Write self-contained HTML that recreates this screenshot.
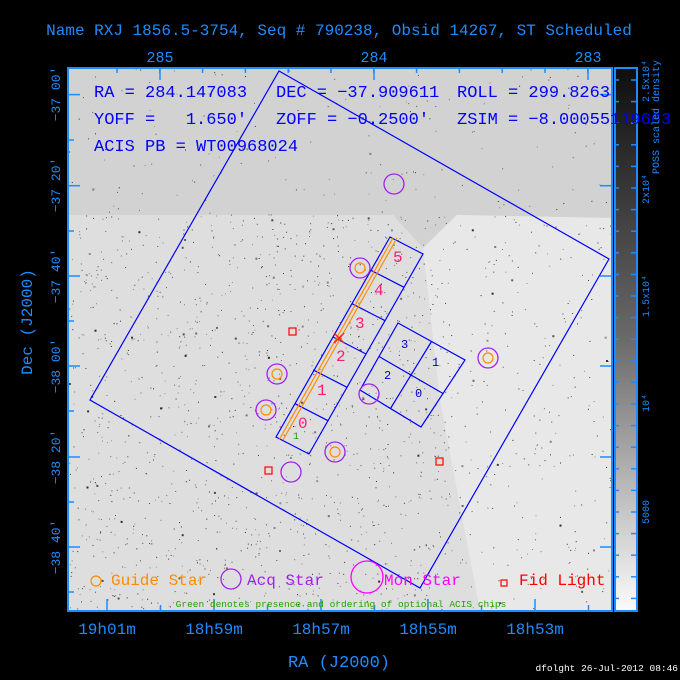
<!DOCTYPE html>
<html><head><meta charset="utf-8"><style>
html,body{margin:0;padding:0;background:#000;}
svg{display:block}
text{font-family:"Liberation Mono",monospace;}
</style></head><body>
<svg id="s" width="680" height="680" viewBox="0 0 680 680" xmlns="http://www.w3.org/2000/svg">
<rect width="680" height="680" fill="#000"/>
<defs>
<linearGradient id="cb" x1="0" y1="0" x2="0" y2="1">
<stop offset="0" stop-color="#0e0e0e"/><stop offset="0.5" stop-color="#6a6a6a"/><stop offset="1" stop-color="#fbfbfb"/>
</linearGradient>
<clipPath id="pc"><rect x="68" y="68" width="544" height="543"/></clipPath>
</defs>
<g clip-path="url(#pc)">
<rect x="68" y="68" width="544" height="543" fill="#d2d2d2"/>
<polygon points="68,215 393,215 423,248 457,215 612,218 612,611 68,611" fill="#dedede"/>
<polygon points="423,248 457,215 612,218 612,611 480,611 440,400" fill="#e8e8e8"/>
<g id="dots"></g>
</g>
<rect x="68" y="68" width="544" height="543" fill="none" stroke="#1e8cff" stroke-width="2"/>
<g id="ticks" stroke="#1e8cff" stroke-width="1.5"></g>
<rect x="615" y="68" width="22" height="543" fill="url(#cb)" stroke="#1e8cff" stroke-width="2"/>
<g id="cticks" stroke="#1e8cff" stroke-width="1.5"></g>
<polygon points="279,71 609,259 420,588 90,400" fill="none" stroke="#0000ff" stroke-width="1.2"/>
<g id="acis" fill="none" stroke="#0000ff" stroke-width="1.2"></g>
<line x1="393" y1="238" x2="279" y2="440" stroke="#ff8c00" stroke-width="1.2"/>
<line x1="397" y1="238" x2="283" y2="440" stroke="#ff8c00" stroke-width="1.2"/>
<g stroke="#ff2020" stroke-width="1.5"><line x1="334" y1="333" x2="344" y2="343"/><line x1="344" y1="333" x2="334" y2="343"/></g>
<g font-size="16" fill="#ff1a7a">
<text x="393" y="262">5</text><text x="374" y="295">4</text><text x="355" y="328">3</text><text x="336" y="361">2</text><text x="317" y="395">1</text><text x="298" y="428">0</text>
</g>
<text x="293" y="439" font-size="10" fill="#22a000">1</text>
<g font-size="12" fill="#0000c0"><text x="401" y="348">3</text><text x="432" y="366">1</text><text x="384" y="379">2</text><text x="415" y="397">0</text></g>
<g fill="none" stroke="#a020f0" stroke-width="1.3">
<circle cx="394" cy="184" r="10"/><circle cx="360" cy="268" r="10"/><circle cx="277" cy="374" r="10"/><circle cx="266" cy="410" r="10"/><circle cx="335" cy="452" r="10"/><circle cx="291" cy="472" r="10"/><circle cx="369" cy="394" r="10"/><circle cx="488" cy="358" r="10"/>
</g>
<g fill="none" stroke="#ff8c00" stroke-width="1.2">
<circle cx="360" cy="268" r="5"/><circle cx="277" cy="374" r="5"/><circle cx="266" cy="410" r="5"/><circle cx="335" cy="452" r="5"/><circle cx="488" cy="358" r="5"/>
</g>
<g fill="none" stroke="#ff0000" stroke-width="1.2">
<rect x="289" y="328" width="7" height="7"/><rect x="265" y="467" width="7" height="7"/><rect x="436" y="458" width="7" height="7"/>
</g>
<g font-size="17" fill="#0000ff">
<text x="94" y="97">RA = 284.147083</text><text x="276" y="97">DEC = −37.909611</text><text x="457" y="97">ROLL = 299.8263</text>
<text x="94" y="124">YOFF =&#160;&#160;&#160;1.650'</text><text x="276" y="124">ZOFF = −0.2500'</text><text x="457" y="124">ZSIM = −8.00055119663</text>
<text x="94" y="151">ACIS PB = WT00968024</text>
</g>
<circle cx="96" cy="581" r="5" fill="none" stroke="#ff8c00" stroke-width="1.2"/>
<text x="111" y="585" font-size="16" fill="#ff8c00">Guide Star</text>
<circle cx="231" cy="579" r="10" fill="none" stroke="#a020f0" stroke-width="1.3"/>
<text x="247" y="585" font-size="16" fill="#a020f0">Acq Star</text>
<circle cx="367" cy="577" r="16" fill="none" stroke="#ff00ff" stroke-width="1.3"/>
<text x="384" y="585" font-size="16" fill="#ff00ff">Mon Star</text>
<rect x="501" y="580" width="6" height="6" fill="none" stroke="#ff0000" stroke-width="1.2"/>
<text x="519" y="585" font-size="16" fill="#ff0000">Fid Light</text>
<text x="341" y="607" font-size="9.5" fill="#22a000" text-anchor="middle">Green denotes presence and ordering of optional ACIS chips</text>
<g fill="#1e8cff">
<text x="339" y="35" font-size="16" text-anchor="middle">Name RXJ 1856.5-3754, Seq # 790238, Obsid 14267, ST Scheduled</text>
<g font-size="15" text-anchor="middle"><text x="160" y="62">285</text><text x="374" y="62">284</text><text x="588" y="62">283</text></g>
<g font-size="16" text-anchor="middle"><text x="107" y="634">19h01m</text><text x="214" y="634">18h59m</text><text x="321" y="634">18h57m</text><text x="428" y="634">18h55m</text><text x="535" y="634">18h53m</text></g>
<text x="339" y="667" font-size="17" text-anchor="middle">RA (J2000)</text>
<text transform="translate(32,322) rotate(-90)" font-size="16" text-anchor="middle">Dec (J2000)</text>
<g font-size="13" text-anchor="middle">
<text transform="translate(60,94) rotate(-90)">−37 00'</text>
<text transform="translate(60,185) rotate(-90)">−37 20'</text>
<text transform="translate(60,276) rotate(-90)">−37 40'</text>
<text transform="translate(60,366) rotate(-90)">−38 00'</text>
<text transform="translate(60,457) rotate(-90)">−38 20'</text>
<text transform="translate(60,547) rotate(-90)">−38 40'</text>
</g>
<g font-size="10" text-anchor="middle">
<text transform="translate(649,81) rotate(-90)">2.5x10⁴</text>
<text transform="translate(649,189) rotate(-90)">2x10⁴</text>
<text transform="translate(649,296) rotate(-90)">1.5x10⁴</text>
<text transform="translate(649,403) rotate(-90)">10⁴</text>
<text transform="translate(649,512) rotate(-90)">5000</text>
<text transform="translate(659,117) rotate(-90)">POSS scaled density</text>
</g>
</g>
<text x="678" y="671" font-size="9.5" fill="#fff" text-anchor="end">dfolght 26-Jul-2012 08:46</text>
</svg>
<script>
(function(){
var NS="http://www.w3.org/2000/svg";
function el(p,n,a){var e=document.createElementNS(NS,n);for(var k in a)e.setAttribute(k,a[k]);p.appendChild(e);return e;}
var seed=12345;function r(){seed=(seed*16807)%2147483647;return seed/2147483647;}
var d=document.getElementById("dots");var s="";
for(var i=0;i<2600;i++){var x=68+r()*544,y=68+r()*543;
 var dense=(y>215&&x<450)?1:(y>215?0.45:0.2);
 if(r()>dense)continue;
 var g=Math.floor(40+r()*110);var sz=r()<0.05?2:1;
 s+='<rect x="'+x.toFixed(1)+'" y="'+y.toFixed(1)+'" width="'+sz+'" height="'+sz+'" fill="rgb('+g+','+g+','+g+')"/>';}
d.innerHTML=s;
var t=document.getElementById("ticks");
[94.6,185.7,276,366,457,547].forEach(function(y){el(t,"line",{x1:68,y1:y,x2:80,y2:y});el(t,"line",{x1:600,y1:y,x2:612,y2:y});});
[140,231,321,411,502,592].forEach(function(y){el(t,"line",{x1:68,y1:y,x2:74,y2:y});});
[160,374,588].forEach(function(x){el(t,"line",{x1:x,y1:68,x2:x,y2:80});});
for(var x=107;x<612;x+=53.5){el(t,"line",{x1:x,y1:611,x2:x,y2:(Math.round((x-107)/53.5)%2?605:599)});}
for(var x=117;x<612;x+=42.8){el(t,"line",{x1:x,y1:68,x2:x,y2:73});}
var c=document.getElementById("cticks");
for(var y=80;y<611;y+=21.6){el(c,"line",{x1:631,y1:y,x2:637,y2:y});el(c,"line",{x1:615,y1:y,x2:619,y2:y});}
var a=document.getElementById("acis");
var T=[390,237],W=[33,17],V=[-114,200];
el(a,"polygon",{points:[T,[T[0]+W[0],T[1]+W[1]],[T[0]+W[0]+V[0],T[1]+W[1]+V[1]],[T[0]+V[0],T[1]+V[1]]].map(function(p){return p.join(",")}).join(" ")});
for(var k=1;k<6;k++){var px=T[0]+V[0]*k/6,py=T[1]+V[1]*k/6;el(a,"line",{x1:px,y1:py,x2:px+W[0],y2:py+W[1]});}
var I=[[398,323],[465,360],[421,427],[360,390]];
el(a,"polygon",{points:I.map(function(p){return p.join(",")}).join(" ")});
function m(p,q){return[(p[0]+q[0])/2,(p[1]+q[1])/2];}
var a1=m(I[0],I[1]),a2=m(I[3],I[2]),b1=m(I[0],I[3]),b2=m(I[1],I[2]);
el(a,"line",{x1:a1[0],y1:a1[1],x2:a2[0],y2:a2[1]});el(a,"line",{x1:b1[0],y1:b1[1],x2:b2[0],y2:b2[1]});
})();
</script>
</body></html>
